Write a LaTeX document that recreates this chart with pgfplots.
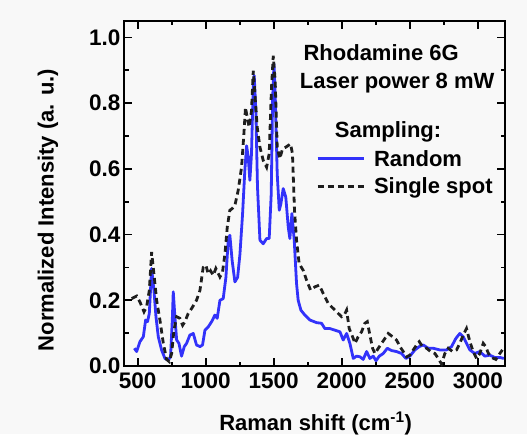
\documentclass[border=0pt]{standalone}
\usepackage{pgfplots}
\pgfplotsset{compat=1.18}
\usepackage{fontspec}
\setmainfont{Liberation Sans}

\definecolor{bgcol}{RGB}{248,248,248}
\definecolor{randblue}{RGB}{50,50,250}
\definecolor{spotblack}{RGB}{30,30,30}

\newcommand{\bigbf}{\fontsize{22}{25}\selectfont\bfseries}

\begin{document}
\begin{tikzpicture}[x=1pt,y=1pt]
\fill[bgcol] (0,0) rectangle (527,434);
\useasboundingbox (0,0) rectangle (527,434);
\begin{axis}[
  at={(124pt,68pt)}, anchor=south west,
  scale only axis, width=381pt, height=345pt,
  xmin=400, xmax=3200, ymin=0, ymax=1.05,
  xtick={500,1000,...,3000},
  minor x tick num=1,
  ytick={0,0.2,...,1.0},
  minor y tick num=1,
  tick align=inside,
  major tick length=8pt, minor tick length=4.5pt,
  every tick/.style={line width=1.8pt, black},
  axis line style={line width=2pt},
  axis background/.style={fill=bgcol},
  /pgf/number format/assume math mode=true,
  xticklabel style={yshift=-3pt, /pgf/number format/.cd, set thousands separator={}},
  yticklabel style={/pgf/number format/.cd, fixed, fixed zerofill, precision=1},
  tick label style={font=\fontsize{22.5}{25}\selectfont\bfseries},
  xlabel={Raman shift (cm\textsuperscript{-1})},
  ylabel={Normalized Intensity (a. u.)},
  label style={font=\bigbf},
  xlabel style={at={(rel axis cs:0.503,-0.167)}, anchor=center},
  ylabel style={at={(rel axis cs:-0.1995,0.452)}, anchor=center},
  legend style={at={(rel axis cs:0.504,0.632)}, anchor=north west,
    draw=none, fill=none, inner sep=0pt,
    font=\bigbf,
    /tikz/every odd column/.append style={column sep=7pt},
    row sep=6pt},
  legend cell align=left,
  legend image code/.code={\draw[#1] (0pt,0pt) -- (46pt,0pt);},
  clip=true,
]
% Random sampling
\addplot[randblue, line width=2.8pt, line join=round] coordinates {
(476,0.054) (493,0.044) (517,0.074) (542,0.089) (559,0.140) (573,0.135)
(586,0.160) (603,0.297) (620,0.230) (635,0.150) (652,0.089) (676,0.049)
(701,0.023) (725,0.018) (742,0.028) (755,0.140) (762,0.226) (774,0.150)
(787,0.079) (804,0.069) (823,0.030) (843,0.059) (860,0.069) (884,0.094)
(909,0.099) (933,0.064) (958,0.059) (977,0.064) (995,0.109) (1019,0.119)
(1044,0.135) (1068,0.155) (1085,0.145) (1105,0.200) (1129,0.205) (1149,0.270)
(1166,0.383) (1178,0.398) (1195,0.320) (1215,0.256) (1235,0.270) (1252,0.340)
(1271,0.460) (1288,0.595) (1301,0.670) (1313,0.636) (1325,0.565) (1337,0.646)
(1350,0.858) (1357,0.884) (1369,0.777) (1381,0.545) (1399,0.383) (1423,0.372)
(1448,0.388) (1467,0.388) (1482,0.524) (1492,0.808) (1502,0.919) (1511,0.829)
(1526,0.585) (1541,0.474) (1553,0.494) (1570,0.540) (1589,0.514) (1607,0.423)
(1619,0.388) (1634,0.464) (1651,0.383) (1668,0.251) (1680,0.200) (1700,0.170)
(1729,0.155) (1766,0.140) (1815,0.132) (1852,0.130) (1876,0.114) (1913,0.114)
(1950,0.109) (1987,0.104) (2011,0.079) (2036,0.099) (2060,0.069) (2085,0.023)
(2109,0.030) (2134,0.028) (2158,0.020) (2183,0.044) (2207,0.023) (2232,0.030)
(2252,0.016) (2276,0.030) (2305,0.038) (2335,0.054) (2366,0.047) (2403,0.044)
(2440,0.038) (2472,0.023) (2501,0.030) (2538,0.049) (2570,0.059) (2599,0.064)
(2636,0.054) (2672,0.054) (2721,0.049) (2770,0.049) (2807,0.059) (2839,0.084)
(2868,0.099) (2893,0.089) (2917,0.069) (2942,0.049) (2978,0.038) (3015,0.044)
(3052,0.030) (3088,0.033) (3125,0.026) (3162,0.026) (3191,0.023)
};
\addlegendentry{Random}
% Single-spot sampling
\addplot[spotblack, line width=2.8pt, dash pattern=on 6pt off 4pt] coordinates {
(456,0.205) (493,0.213) (517,0.195) (547,0.165) (566,0.180) (586,0.230)
(603,0.347) (620,0.280) (640,0.200) (664,0.140) (689,0.069) (713,0.020)
(733,0.013) (750,0.038) (767,0.109) (787,0.150) (811,0.145) (831,0.124)
(848,0.135) (872,0.160) (897,0.175) (933,0.200) (958,0.230) (982,0.300)
(1002,0.307) (1019,0.280) (1036,0.290) (1056,0.276) (1075,0.297) (1105,0.271)
(1124,0.286) (1142,0.342) (1159,0.423) (1178,0.474) (1195,0.479) (1215,0.489)
(1239,0.534) (1264,0.605) (1281,0.706) (1293,0.787) (1305,0.757) (1320,0.727)
(1337,0.777) (1350,0.899) (1362,0.828) (1379,0.727) (1399,0.666) (1423,0.626)
(1448,0.605) (1467,0.646) (1484,0.848) (1497,0.944) (1511,0.868) (1526,0.666)
(1545,0.631) (1565,0.661) (1589,0.666) (1624,0.676) (1638,0.646) (1653,0.474)
(1668,0.383) (1687,0.312) (1717,0.291) (1742,0.261) (1771,0.231) (1803,0.241)
(1835,0.246) (1864,0.221) (1901,0.190) (1938,0.175) (1974,0.160) (1999,0.150)
(2018,0.155) (2036,0.170) (2055,0.114) (2080,0.089) (2097,0.069) (2121,0.089)
(2146,0.104) (2170,0.130) (2188,0.135) (2207,0.094) (2227,0.054) (2244,0.038)
(2269,0.054) (2293,0.069) (2318,0.084) (2342,0.099) (2374,0.089) (2403,0.079)
(2428,0.059) (2452,0.044) (2477,0.028) (2501,0.033) (2526,0.049) (2550,0.064)
(2570,0.074) (2594,0.059) (2624,0.054) (2653,0.044) (2685,0.038) (2709,0.023)
(2734,0.006) (2758,0.038) (2783,0.054) (2815,0.044) (2844,0.049) (2868,0.069)
(2893,0.094) (2917,0.114) (2942,0.074) (2966,0.044) (2991,0.023) (3015,0.038)
(3040,0.069) (3059,0.059) (3076,0.040) (3101,0.026) (3133,0.020) (3162,0.038)
(3181,0.049)
};
\addlegendentry{Single spot}
\node[font=\bigbf, anchor=center]
  at (rel axis cs:0.675,0.907) {Rhodamine 6G};
\node[font=\bigbf, anchor=center]
  at (rel axis cs:0.717,0.820) {Laser power 8 mW};
\node[font=\bigbf, anchor=center]
  at (rel axis cs:0.693,0.678) {Sampling:};
\end{axis}
\end{tikzpicture}
\end{document}
